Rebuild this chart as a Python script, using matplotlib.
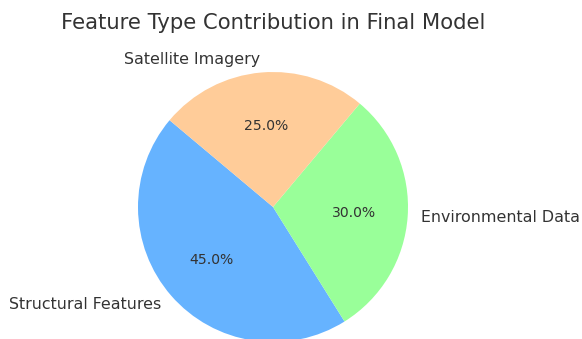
import matplotlib
matplotlib.use("Agg")
import matplotlib.pyplot as plt

labels = ["Structural Features", "Environmental Data", "Satellite Imagery"]
sizes = [45, 30, 25]
colors = ["#66b3ff", "#99ff99", "#ffcc99"]
title = "Feature Type Contribution in Final Model"

W, H = 582, 339
fig = plt.figure(figsize=(W / 100, H / 100), dpi=100)
cx, cy, r = 273, 207, 135
ax = fig.add_axes([(cx - r) / W, (H - cy - r) / H, 2 * r / W, 2 * r / H])
wedges, texts, autotexts = ax.pie(sizes, labels=labels, colors=colors, startangle=140,
                                  autopct="%1.1f%%", textprops={"fontsize": 11.4, "color": "#333333"})
for t in autotexts:
    t.set_fontsize(10.1)
ax.set_xlim(-1, 1)
ax.set_ylim(-1, 1)
ax.axis("off")
fig.text(cx / W, 1 - 23 / H, title, ha="center", va="center", fontsize=15.2, color="#333333")
fig.savefig("out.png", dpi=100)
